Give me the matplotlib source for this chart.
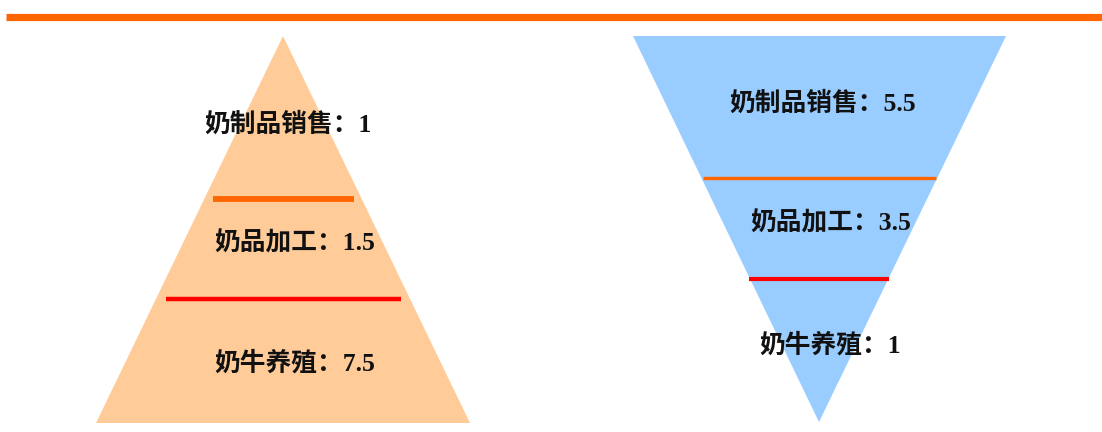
import matplotlib as mpl
mpl.use('Agg')
import matplotlib.pyplot as plt
from matplotlib.patches import Polygon

stages = ['奶制品销售', '奶品加工', '奶牛养殖']
left_values = [1, 1.5, 7.5]
right_values = [5.5, 3.5, 1]

fig = plt.figure(figsize=(11.02, 4.32), dpi=100)
ax = fig.add_axes([0, 0, 1, 1])
ax.set_xlim(0, 1102)
ax.set_ylim(432, 0)
ax.axis('off')

# header rule
ax.plot([6, 1102], [16.5, 16.5], color='#ff6600', lw=5.2, solid_capstyle='butt')

# pyramid (left) and funnel (right)
ax.add_patch(Polygon([[283, 36], [96, 423], [470, 423]], closed=True,
                     facecolor='#ffcc99', edgecolor='none'))
ax.add_patch(Polygon([[633, 36], [1006, 36], [819, 422]], closed=True,
                     facecolor='#99ccff', edgecolor='none'))

# dividers
ax.plot([213, 354], [199, 199], color='#ff6600', lw=4.2, solid_capstyle='butt')
ax.plot([166, 401], [299, 299], color='#ff0000', lw=3.2, solid_capstyle='butt')
ax.plot([703, 936], [178, 178], color='#ff6600', lw=2.4, solid_capstyle='butt')
ax.plot([749, 889], [279, 279], color='#ff0000', lw=3.0, solid_capstyle='butt')

font = dict(family=['Liberation Serif', 'Noto Sans CJK SC'], fontweight='bold',
            fontsize=18.5, color='#111111', va='center', ha='center')

left_pos = [(288, 124), (295, 243), (295, 363)]
right_pos = [(823, 103), (831, 223), (830, 345)]

for name, v, (x, y) in zip(stages, left_values, left_pos):
    ax.text(x, y, f'{name}：{v:g}', **font)
for name, v, (x, y) in zip(stages, right_values, right_pos):
    ax.text(x, y, f'{name}：{v:g}', **font)

fig.savefig('out.png', dpi=100)
